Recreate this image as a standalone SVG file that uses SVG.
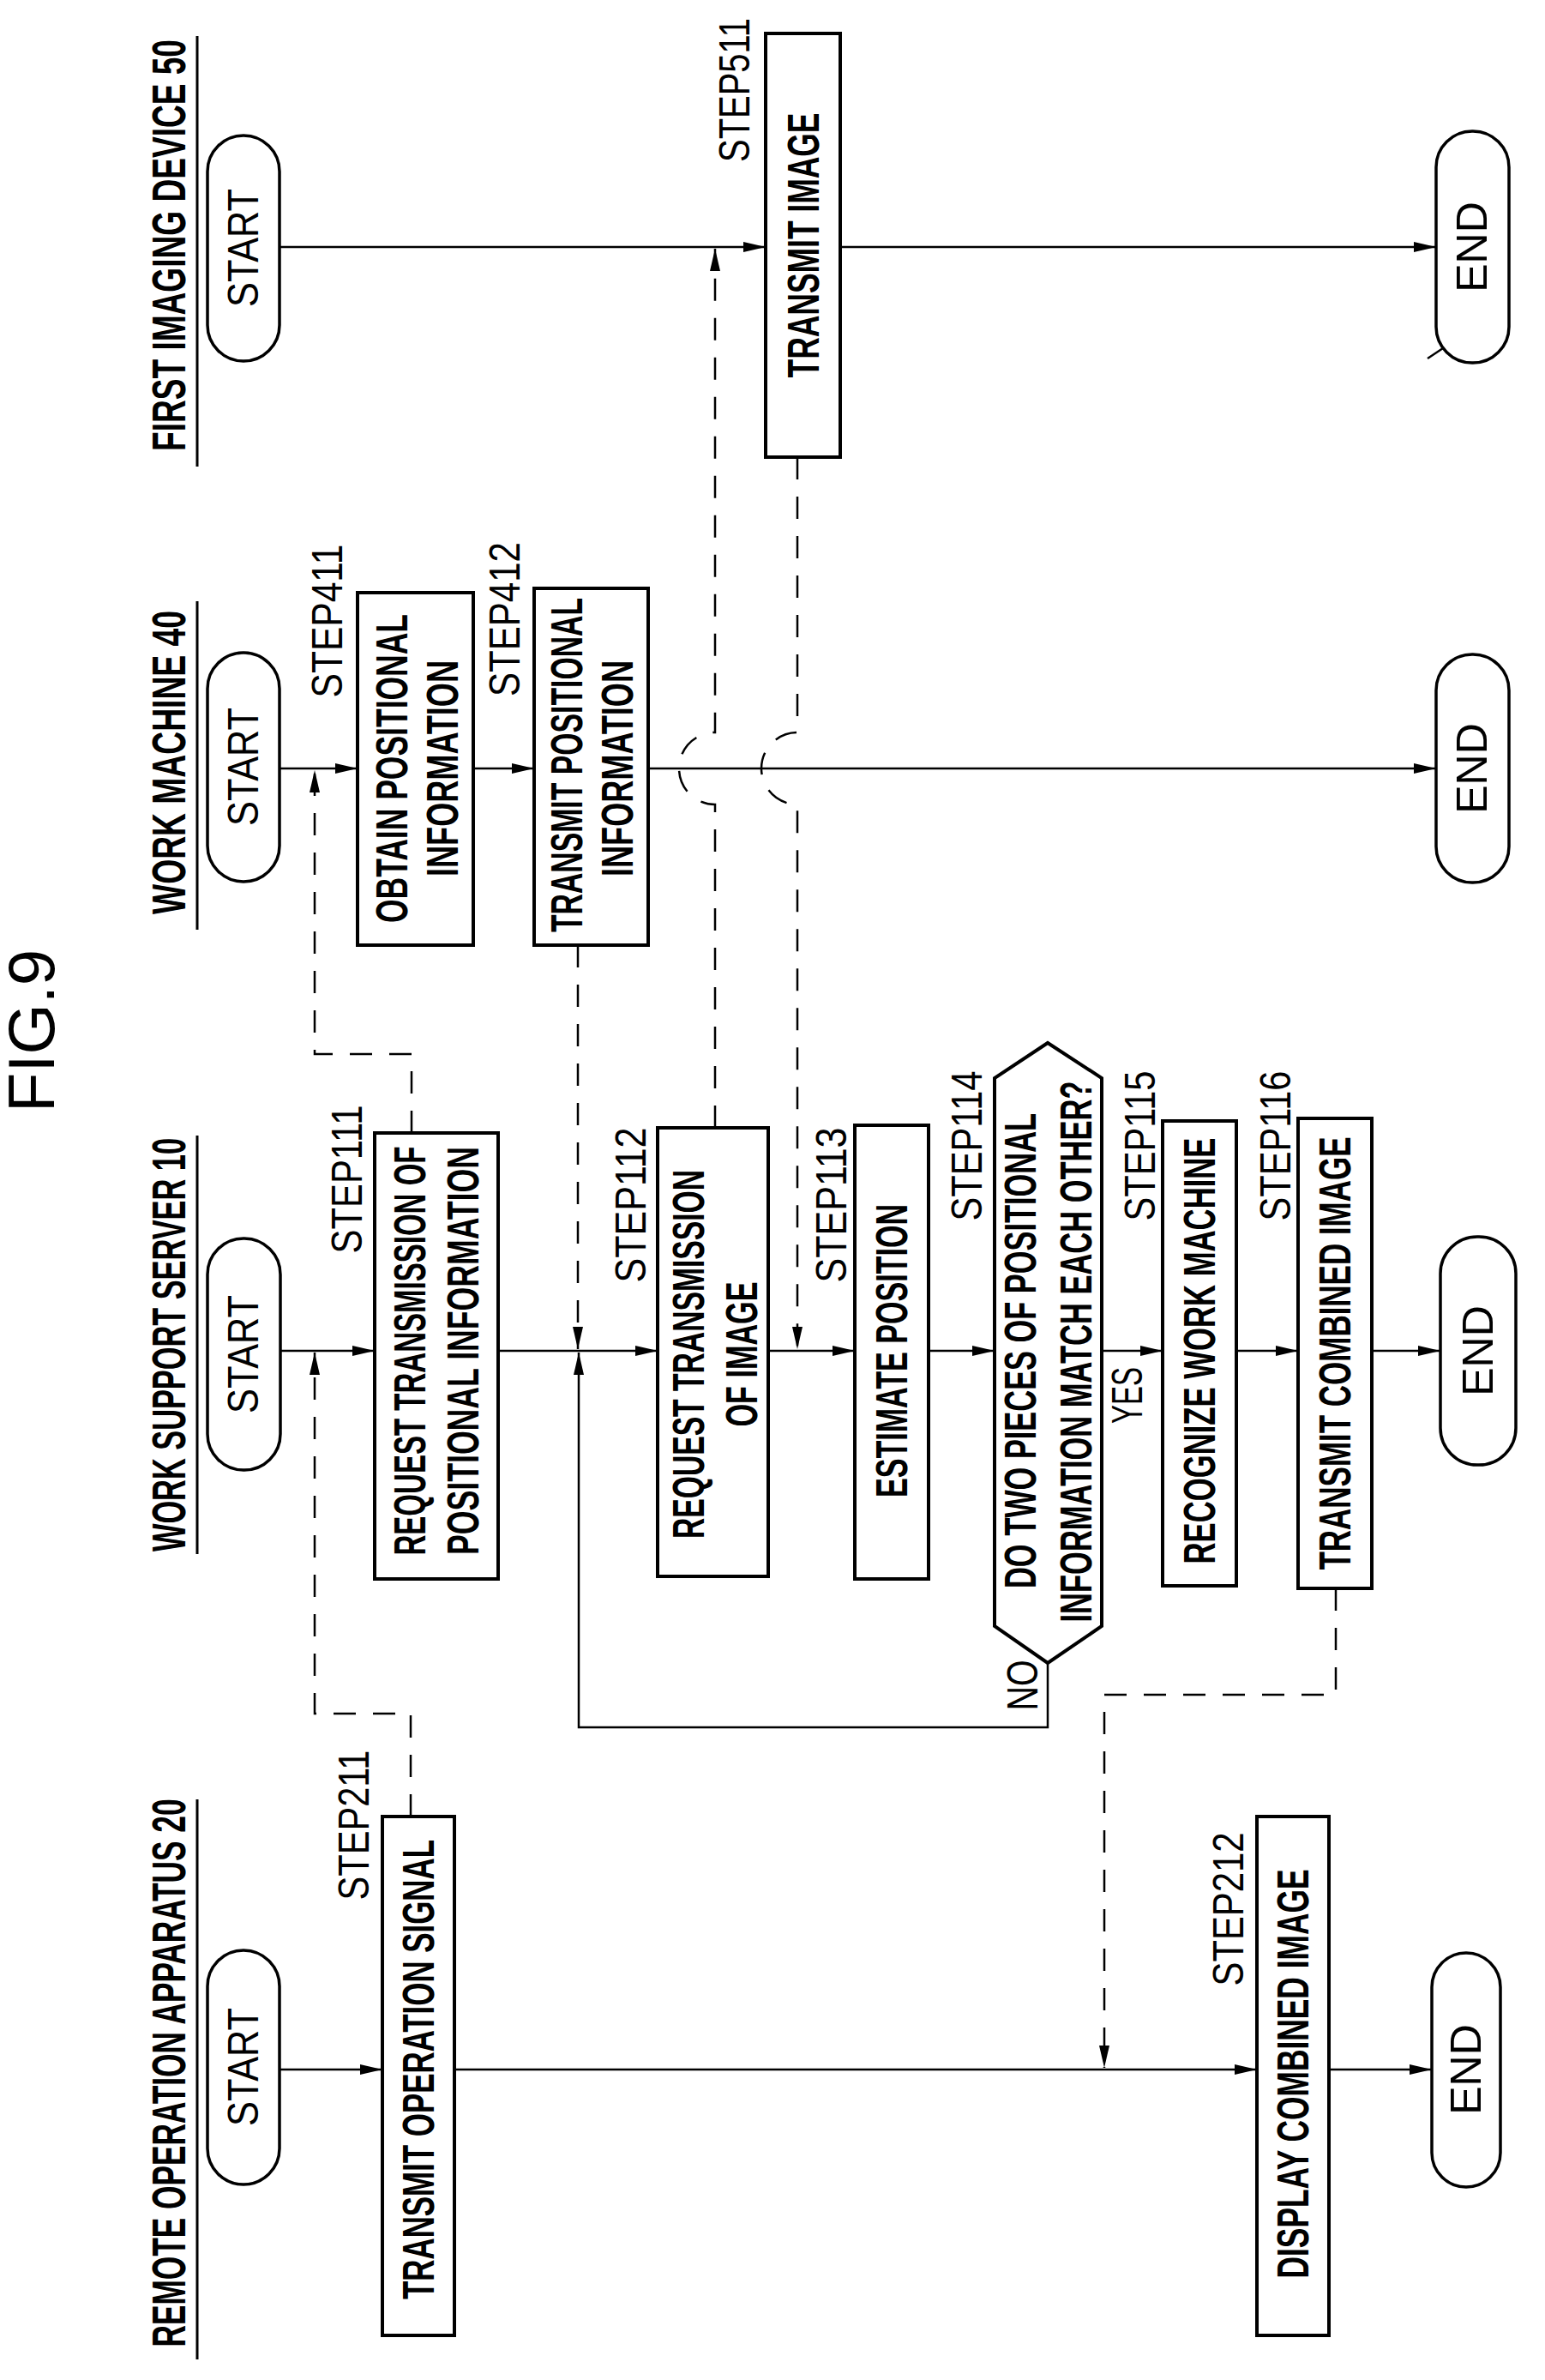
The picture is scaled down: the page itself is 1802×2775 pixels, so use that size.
<svg xmlns="http://www.w3.org/2000/svg" width="1802" height="2775" viewBox="0 0 1802 2775">
<defs>
<marker id="ah" markerUnits="userSpaceOnUse" markerWidth="28" markerHeight="14" refX="26" refY="7" orient="auto"><path d="M0,1 L26,7 L0,13 Z" fill="#000"/></marker>
<style>
.bx{fill:#fff;stroke:#000;stroke-width:4}
.ov{fill:#fff;stroke:#000;stroke-width:3.5}
.ln{fill:none;stroke:#000;stroke-width:2.5}
.ds{fill:none;stroke:#000;stroke-width:2.5;stroke-dasharray:26 20}
.ul{stroke:#000;stroke-width:3}
text{font-family:"Liberation Sans",Arial,sans-serif;fill:#000;text-anchor:middle;dominant-baseline:central}
.t{font-size:56px;font-weight:bold}
.b{font-size:52px;font-weight:bold}
.s{font-size:50px}
.o{font-size:50px}
.f{font-size:76px}
</style>
</defs>
<text class="f" transform="translate(36,1202) rotate(-90)">FIG.9</text>
<g id="lanes">
<text class="t" transform="translate(196,286) rotate(-90)" textLength="480" lengthAdjust="spacingAndGlyphs">FIRST IMAGING DEVICE  50</text>
<line class="ul" x1="230" y1="42" x2="230" y2="544"/>
<text class="t" transform="translate(196,889) rotate(-90)" textLength="354" lengthAdjust="spacingAndGlyphs">WORK MACHINE  40</text>
<line class="ul" x1="230" y1="701" x2="230" y2="1084"/>
<text class="t" transform="translate(196,1568) rotate(-90)" textLength="482" lengthAdjust="spacingAndGlyphs">WORK SUPPORT SERVER  10</text>
<line class="ul" x1="230" y1="1324" x2="230" y2="1812"/>
<text class="t" transform="translate(196,2417) rotate(-90)" textLength="639" lengthAdjust="spacingAndGlyphs">REMOTE OPERATION APPARATUS  20</text>
<line class="ul" x1="230" y1="2098" x2="230" y2="2751"/>
</g>
<g id="connectors">
<path class="ln" d="M326,288 H893" marker-end="url(#ah)"/>
<path class="ln" d="M980,288 H1675" marker-end="url(#ah)"/>
<path class="ln" d="M326,896 H417" marker-end="url(#ah)"/>
<path class="ln" d="M552,896 H623" marker-end="url(#ah)"/>
<path class="ln" d="M756,896 H1675" marker-end="url(#ah)"/>
<path class="ln" d="M327,1575 H437" marker-end="url(#ah)"/>
<path class="ln" d="M581,1575 H767" marker-end="url(#ah)"/>
<path class="ln" d="M896,1575 H997" marker-end="url(#ah)"/>
<path class="ln" d="M1083,1575 H1160" marker-end="url(#ah)"/>
<path class="ln" d="M1285,1575 H1356" marker-end="url(#ah)"/>
<path class="ln" d="M1442,1575 H1514" marker-end="url(#ah)"/>
<path class="ln" d="M1600,1575 H1680" marker-end="url(#ah)"/>
<path class="ln" d="M326,2413 H446" marker-end="url(#ah)"/>
<path class="ln" d="M530,2413 H1466" marker-end="url(#ah)"/>
<path class="ln" d="M1550,2413 H1670" marker-end="url(#ah)"/>
<path class="ln" d="M1222,1939 V2014 H675 V1577" marker-end="url(#ah)"/>
<path class="ds" d="M479,2118 V1998 H367 V1577" marker-end="url(#ah)"/>
<path class="ds" d="M480,1321 V1229 H367 V898" marker-end="url(#ah)"/>
<path class="ds" d="M674,1102 V1573" marker-end="url(#ah)"/>
<path class="ds" d="M834,1315 V938 A42,42 0 0 1 834,854 V290" marker-end="url(#ah)"/>
<path class="ds" d="M930,533 V854 A42,42 0 0 0 930,938 V1573" marker-end="url(#ah)"/>
<path class="ds" d="M1558,1852 V1976 H1288 V2411" marker-end="url(#ah)"/>
<line class="ln" x1="1665" y1="418" x2="1683" y2="406"/>
</g>
<g id="start1"><rect class="ov" x="242" y="158" width="84" height="263" rx="42"/><text class="o" transform="translate(284,289) rotate(-90)" textLength="138" lengthAdjust="spacingAndGlyphs">START</text></g>
<g id="start2"><rect class="ov" x="242" y="761" width="84" height="267" rx="42"/><text class="o" transform="translate(284,894) rotate(-90)" textLength="138" lengthAdjust="spacingAndGlyphs">START</text></g>
<g id="start3"><rect class="ov" x="242" y="1444" width="85" height="270" rx="42"/><text class="o" transform="translate(284,1579) rotate(-90)" textLength="138" lengthAdjust="spacingAndGlyphs">START</text></g>
<g id="start4"><rect class="ov" x="242" y="2274" width="84" height="273" rx="42"/><text class="o" transform="translate(284,2410) rotate(-90)" textLength="138" lengthAdjust="spacingAndGlyphs">START</text></g>
<g id="end1"><rect class="ov" x="1675" y="153" width="85" height="270" rx="42"/><text class="o" transform="translate(1717,288) rotate(-90)">END</text></g>
<g id="end2"><rect class="ov" x="1675" y="763" width="85" height="266" rx="42"/><text class="o" transform="translate(1717,896) rotate(-90)">END</text></g>
<g id="end3"><rect class="ov" x="1680" y="1442" width="88" height="266" rx="43"/><text class="o" transform="translate(1724,1575) rotate(-90)">END</text></g>
<g id="end4"><rect class="ov" x="1670" y="2277" width="80" height="273" rx="40"/><text class="o" transform="translate(1710,2413) rotate(-90)">END</text></g>
<g id="s511"><rect class="bx" x="893" y="39" width="87" height="494"/><text class="b" transform="translate(937,286) rotate(-90)" textLength="309" lengthAdjust="spacingAndGlyphs">TRANSMIT IMAGE</text><text class="s" transform="translate(857,105) rotate(-90)" textLength="168" lengthAdjust="spacingAndGlyphs">STEP511</text></g>
<g id="s411"><rect class="bx" x="417" y="691" width="135" height="411"/><text class="b" transform="translate(457,896) rotate(-90)" textLength="360" lengthAdjust="spacingAndGlyphs">OBTAIN POSITIONAL</text><text class="b" transform="translate(516,896) rotate(-90)" textLength="252" lengthAdjust="spacingAndGlyphs">INFORMATION</text><text class="s" transform="translate(382,724) rotate(-90)" textLength="179" lengthAdjust="spacingAndGlyphs">STEP411</text></g>
<g id="s412"><rect class="bx" x="623" y="686" width="133" height="416"/><text class="b" transform="translate(661,892) rotate(-90)" textLength="390" lengthAdjust="spacingAndGlyphs">TRANSMIT POSITIONAL</text><text class="b" transform="translate(720,896) rotate(-90)" textLength="252" lengthAdjust="spacingAndGlyphs">INFORMATION</text><text class="s" transform="translate(589,722) rotate(-90)" textLength="180" lengthAdjust="spacingAndGlyphs">STEP412</text></g>
<g id="s111"><rect class="bx" x="437" y="1321" width="144" height="520"/><text class="b" transform="translate(478,1575) rotate(-90)" textLength="477" lengthAdjust="spacingAndGlyphs">REQUEST TRANSMISSION OF</text><text class="b" transform="translate(540,1575) rotate(-90)" textLength="476" lengthAdjust="spacingAndGlyphs">POSITIONAL INFORMATION</text><text class="s" transform="translate(405,1375) rotate(-90)" textLength="173" lengthAdjust="spacingAndGlyphs">STEP111</text></g>
<g id="s112"><rect class="bx" x="767" y="1315" width="129" height="523"/><text class="b" transform="translate(803,1579) rotate(-90)" textLength="430" lengthAdjust="spacingAndGlyphs">REQUEST TRANSMISSION</text><text class="b" transform="translate(865,1579) rotate(-90)" textLength="169" lengthAdjust="spacingAndGlyphs">OF IMAGE</text><text class="s" transform="translate(736,1405) rotate(-90)" textLength="181" lengthAdjust="spacingAndGlyphs">STEP112</text></g>
<g id="s113"><rect class="bx" x="997" y="1312" width="86" height="529"/><text class="b" transform="translate(1040,1575) rotate(-90)" textLength="342" lengthAdjust="spacingAndGlyphs">ESTIMATE POSITION</text><text class="s" transform="translate(970,1405) rotate(-90)" textLength="181" lengthAdjust="spacingAndGlyphs">STEP113</text></g>
<g id="s114"><path class="bx" d="M1222,1216 L1285,1257 V1896 L1222,1939 L1160,1896 V1257 Z"/><text class="b" transform="translate(1190,1575) rotate(-90)" textLength="554" lengthAdjust="spacingAndGlyphs">DO TWO PIECES OF POSITIONAL</text><text class="b" transform="translate(1255,1576) rotate(-90)" textLength="631" lengthAdjust="spacingAndGlyphs">INFORMATION MATCH EACH OTHER?</text><text class="s" transform="translate(1128,1336) rotate(-90)" textLength="175" lengthAdjust="spacingAndGlyphs">STEP114</text><text class="s" transform="translate(1315,1627) rotate(-90)" textLength="66" lengthAdjust="spacingAndGlyphs">YES</text><text class="s" transform="translate(1193,1965) rotate(-90)" textLength="59" lengthAdjust="spacingAndGlyphs">NO</text></g>
<g id="s115"><rect class="bx" x="1356" y="1307" width="86" height="542"/><text class="b" transform="translate(1399,1575) rotate(-90)" textLength="497" lengthAdjust="spacingAndGlyphs">RECOGNIZE WORK MACHINE</text><text class="s" transform="translate(1330,1336) rotate(-90)" textLength="175" lengthAdjust="spacingAndGlyphs">STEP115</text></g>
<g id="s116"><rect class="bx" x="1514" y="1304" width="86" height="548"/><text class="b" transform="translate(1557,1578) rotate(-90)" textLength="505" lengthAdjust="spacingAndGlyphs">TRANSMIT COMBINED IMAGE</text><text class="s" transform="translate(1488,1336) rotate(-90)" textLength="175" lengthAdjust="spacingAndGlyphs">STEP116</text></g>
<g id="s211"><rect class="bx" x="446" y="2118" width="84" height="605"/><text class="b" transform="translate(488,2413) rotate(-90)" textLength="536" lengthAdjust="spacingAndGlyphs">TRANSMIT OPERATION SIGNAL</text><text class="s" transform="translate(413,2128) rotate(-90)" textLength="175" lengthAdjust="spacingAndGlyphs">STEP211</text></g>
<g id="s212"><rect class="bx" x="1466" y="2118" width="84" height="605"/><text class="b" transform="translate(1508,2418) rotate(-90)" textLength="477" lengthAdjust="spacingAndGlyphs">DISPLAY COMBINED IMAGE</text><text class="s" transform="translate(1433,2226) rotate(-90)" textLength="179" lengthAdjust="spacingAndGlyphs">STEP212</text></g>
</svg>
